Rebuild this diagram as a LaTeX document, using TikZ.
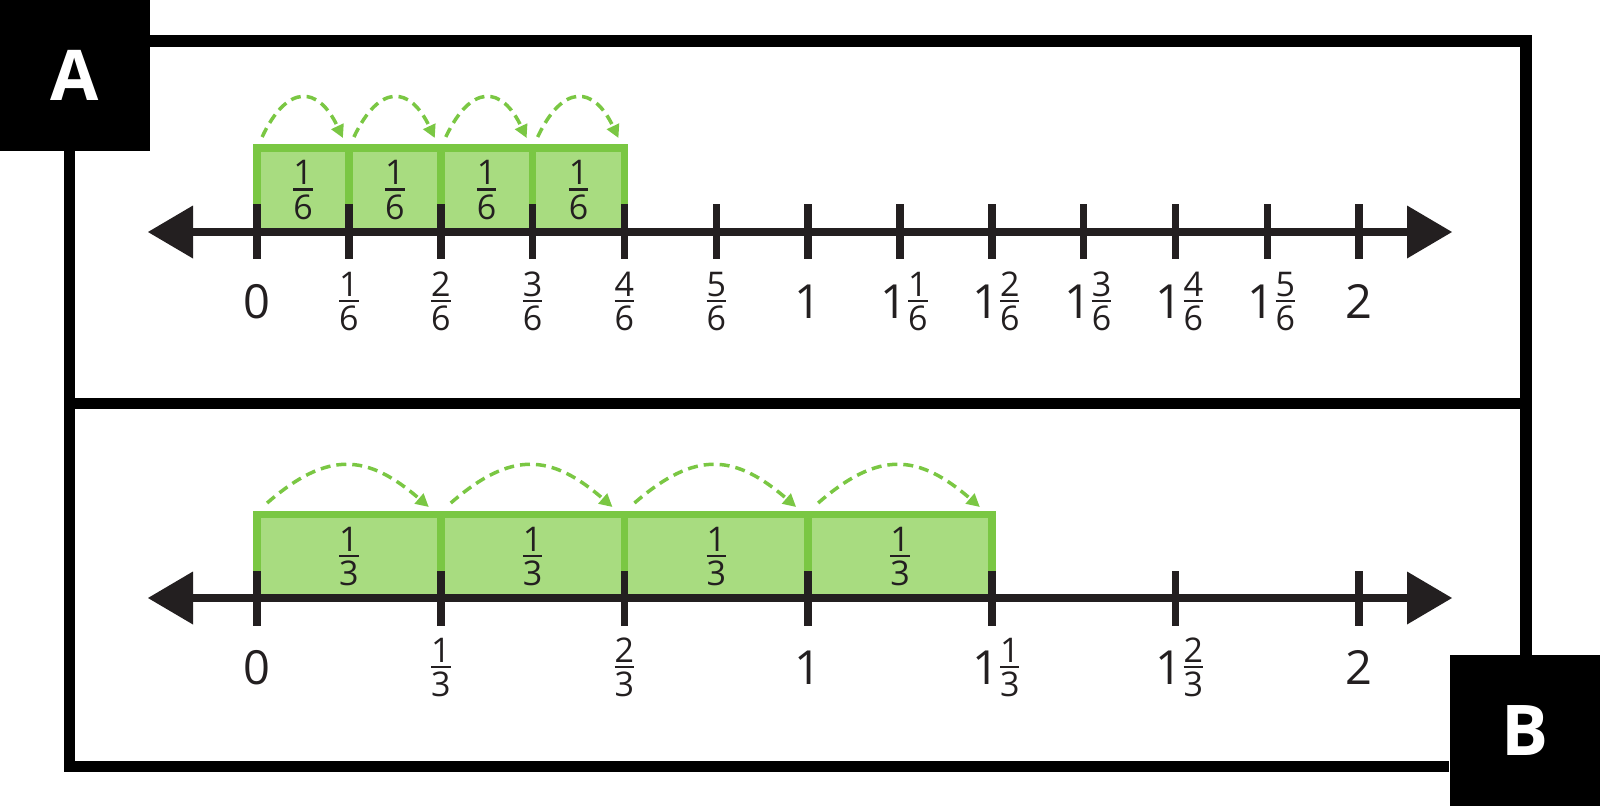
\documentclass[tikz,border=0pt]{standalone}
\usepackage{fontspec}
\setmainfont{Open Sans}
\usetikzlibrary{arrows.meta,calc}
\definecolor{ink}{RGB}{35,31,32}
\definecolor{gD}{RGB}{122,199,67}
\definecolor{gL}{RGB}{168,220,128}
\newcommand\fsW{\fontsize{47}{52}\selectfont}
\newcommand\fsF{\fontsize{34}{38}\selectfont}
\newcommand\fr[2]{\lower12.5pt\vbox{\offinterlineskip\fsF\halign{\hfil##\hfil\cr #1\cr\noalign{\kern3.5pt\hrule height 2.5pt\kern3.5pt}#2\cr}}}
\newcommand\mx[2]{{\fsW 1}\kern1pt\fr{#1}{#2}}
\tikzset{
  border/.style={line width=11.5pt, black, line join=miter},
  tag/.style={fill=black, text=white, minimum width=150pt, minimum height=151pt, inner sep=0pt, font=\fontsize{70}{80}\selectfont\bfseries},
  seg/.style={fill=gL, draw=gD, line width=7.5pt, inner sep=0pt, text=ink},
  axisline/.style={line width=7.5pt, draw=ink},
  tickmark/.style={line width=7.5pt, draw=ink},
  headtri/.style={fill=ink},
  hop/.style={draw=gD, line width=3.5pt, dash pattern=on 10pt off 6pt, -{Triangle[length=13pt,width=13pt]}},
  lab/.style={anchor=base, text=ink, inner sep=0pt, font=\fsW}
}
\begin{document}
\begin{tikzpicture}[x=1pt,y=-1pt]
\useasboundingbox (0,0) rectangle (1600,806);
% frame
\node[tag] (A) at (75,75.5) {A};
\node[tag] (B) at (1524.5,730.5) {B};
\coordinate (tl) at (69.7,40.8);
\coordinate (tr) at (1526,40.8);
\coordinate (bl) at (69.7,766.5);
\coordinate (ml) at (69.7,403.5);
\coordinate (mr) at (1526,403.5);
\draw[border] (A.east |- tl) -- (tr) -- (tr |- B.north);
\draw[border] (bl |- A.south) -- (bl) -- (B.west |- bl);
\draw[border] (ml) -- (mr);
% tick coordinates
\foreach \i in {0,...,12}{
  \pgfmathsetmacro\xx{257.1+91.84*\i}
  \coordinate (ta\i) at (\xx,232);
  \coordinate (tb\i) at (\xx,598);
}
% green segments A
\foreach \i [evaluate=\i as \j using int(\i+1)] in {0,...,3}{
  \node[seg, minimum width=91.84pt, minimum height=84pt] (sa\i) at ($(ta\i)!0.5!(ta\j)+(0,-42)$) {\fr16};
}
% green segments B
\foreach \i [evaluate=\i as \j using int(\i+2)] in {0,2,4,6}{
  \node[seg, minimum width=183.68pt, minimum height=83.5pt] (sb\i) at ($(tb\i)!0.5!(tb\j)+(0,-41.75)$) {\fr13};
}
% axes
\foreach \r in {a,b}{
  \coordinate (L\r) at ($(t\r0)+(-64.1,0)$);
  \coordinate (R\r) at ($(t\r12)+(47.8,0)$);
  \draw[axisline] (L\r) -- (R\r);
  \fill[headtri] ($(L\r)+(-45,0)$) -- ($(L\r)+(0,-26.5)$) -- ($(L\r)+(0,26.5)$) -- cycle;
  \fill[headtri] ($(R\r)+(45,0)$) -- ($(R\r)+(0,-26.5)$) -- ($(R\r)+(0,26.5)$) -- cycle;
}
\foreach \i in {0,...,12}{
  \draw[tickmark] ($(ta\i)+(0,-28)$) -- ($(ta\i)+(0,27)$);
}
\foreach \i in {0,2,...,12}{
  \draw[tickmark] ($(tb\i)+(0,-27)$) -- ($(tb\i)+(0,28)$);
}
% labels A
\foreach \i/\t in {0/0,1/\fr16,2/\fr26,3/\fr36,4/\fr46,5/\fr56,6/1,12/2}{
  \node[lab] (la\i) at ($(ta\i)+(0,86)$) {\t};
}
\foreach \i/\t in {7/\mx16,8/\mx26,9/\mx36,10/\mx46,11/\mx56}{
  \node[lab] (la\i) at ($(ta\i)+(4,86)$) {\t};
}
% labels B
\foreach \i/\t in {0/0,2/\fr13,4/\fr23,6/1,12/2}{
  \node[lab] (lb\i) at ($(tb\i)+(0,86)$) {\t};
}
\foreach \i/\t in {8/\mx13,10/\mx23}{
  \node[lab] (lb\i) at ($(tb\i)+(4,86)$) {\t};
}
% hops A
\foreach \i [evaluate=\i as \j using int(\i+1)] in {0,...,3}{
  \coordinate (ha\i) at ($(ta\i)+(5,-95)$);
  \coordinate (ea\i) at ($(ta\j)+(-6,-94)$);
  \draw[hop] (ha\i) .. controls ($(ha\i)+(25,-53)$) and ($(ea\i)+(-25,-53)$) .. (ea\i);
}
% hops B
\foreach \i [evaluate=\i as \j using int(\i+2)] in {0,2,4,6}{
  \coordinate (hb\i) at ($(tb\i)+(10,-95)$);
  \coordinate (eb\i) at ($(tb\j)+(-12,-91)$);
  \draw[hop] (hb\i) .. controls ($(hb\i)+(61,-53)$) and ($(eb\i)+(-61,-53)$) .. (eb\i);
}
\end{tikzpicture}
\end{document}
